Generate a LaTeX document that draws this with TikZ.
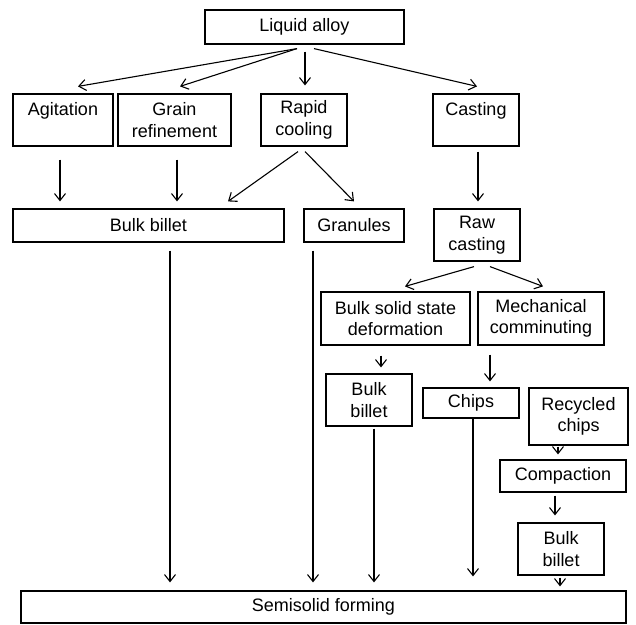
\documentclass[tikz,border=0pt]{standalone}
\usepackage{fontspec}
\setmainfont{Liberation Sans}
\usetikzlibrary{arrows.meta}
\begin{document}
\begin{tikzpicture}[x=1pt,y=-1pt,
  box/.style={draw, line width=1.2pt, inner sep=0pt, align=center, font=\fontsize{18}{21.5}\selectfont},
  arr/.style={-{Straight Barb[length=7pt,width=11pt]}, line width=1.1pt}]
\useasboundingbox (0,0) rectangle (636,624);
% row 1
\node[box, minimum width=199pt, minimum height=34pt] (liquid) at (304.5,27) {Liquid alloy};
% row 2
\node[box, minimum width=100pt, minimum height=52pt] (agit) at (63,120) {Agitation\\\mbox{}};
\node[box, minimum width=113pt, minimum height=52pt] (grain) at (174.5,120) {Grain\\refinement};
\node[box, minimum width=86pt, minimum height=52pt] (rapid) at (304,120) {Rapid\\cooling};
\node[box, minimum width=86pt, minimum height=52pt] (casting) at (476,120) {Casting\\\mbox{}};
% row 3
\node[box, minimum width=271pt, minimum height=33pt] (bb1) at (148.5,225.5) {Bulk billet};
\node[box, minimum width=100pt, minimum height=33pt] (gran) at (354,225.5) {Granules};
\node[box, minimum width=86pt, minimum height=52pt] (raw) at (477,235) {Raw\\casting};
% row 4
\node[box, minimum width=149pt, minimum height=53pt] (bssd) at (395.5,318.5) {Bulk solid state\\deformation};
\node[box, minimum width=126pt, minimum height=53pt] (mech) at (541,318.5) {Mechanical\\comminuting};
% row 5
\node[box, minimum width=86pt, minimum height=52pt] (bb2) at (369,400) {Bulk\\billet};
\node[box, minimum width=96pt, minimum height=30pt] (chips) at (471,403) {Chips};
\node[box, minimum width=99pt, minimum height=57pt] (recyc) at (578.5,416.5) {Recycled\\chips};
\node[box, minimum width=126pt, minimum height=32pt] (compact) at (563,476) {Compaction};
\node[box, minimum width=86pt, minimum height=52pt] (bb3) at (561,549) {Bulk\\billet};
% bottom
\node[box, minimum width=605pt, minimum height=32pt] (semi) at (323.5,607) {Semisolid forming};
% arrows
\draw[arr] ([shift={(-7.5,4)}]liquid.south) -- ([shift={(15,-7)}]agit.north);
\draw[arr] ([shift={(-7.5,4)}]liquid.south) -- ([shift={(5.5,-7)}]grain.north);
\draw[arr] ([shift={(0.5,7)}]liquid.south) -- ([shift={(1,-8)}]rapid.north);
\draw[arr] ([shift={(9.5,4)}]liquid.south) -- ([shift={(1,-7)}]casting.north);
\draw[arr] ([shift={(-3,13)}]agit.south) -- ([shift={(-88.5,-7)}]bb1.north);
\draw[arr] ([shift={(2.5,13)}]grain.south) -- ([shift={(28.5,-7)}]bb1.north);
\draw[arr] ([shift={(-6,5)}]rapid.south) -- ([shift={(79.5,-7)}]bb1.north);
\draw[arr] ([shift={(1,5)}]rapid.south) -- ([shift={(0,-7)}]gran.north);
\draw[arr] ([shift={(2,5)}]casting.south) -- ([shift={(1,-7)}]raw.north);
\draw[arr] ([shift={(21.5,8)}]bb1.south) -- ([shift={(-153.5,-8)}]semi.north);
\draw[arr] ([shift={(-41,8)}]gran.south) -- ([shift={(-10.5,-8)}]semi.north);
\draw[arr] ([shift={(-3,5)}]raw.south) -- ([shift={(9.5,-5)}]bssd.north);
\draw[arr] ([shift={(13,5)}]raw.south) -- ([shift={(2,-5)}]mech.north);
\draw[arr] ([shift={(-14.5,10)}]bssd.south) -- ([shift={(12,-6)}]bb2.north);
\draw[arr] ([shift={(-51,9)}]mech.south) -- ([shift={(19,-6)}]chips.north);
\draw[arr] ([shift={(-20.5,1)}]recyc.south) -- ([shift={(-5,-5)}]compact.north);
\draw[arr] ([shift={(-8,3)}]compact.south) -- ([shift={(-6,-7)}]bb3.north);
\draw[arr] ([shift={(-1,2)}]bb3.south) -- ([shift={(236.5,-4)}]semi.north);
\draw[arr] ([shift={(5,2)}]bb2.south) -- ([shift={(50.5,-8)}]semi.north);
\draw[arr] ([shift={(2,0)}]chips.south) -- ([shift={(149.5,-14)}]semi.north);
\end{tikzpicture}
\end{document}
